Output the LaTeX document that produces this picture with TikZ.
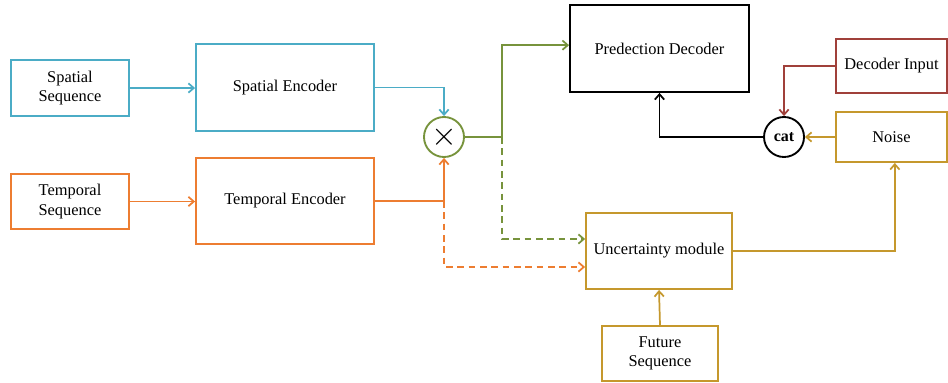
\documentclass[tikz,border=0pt]{standalone}
\usepackage{fontspec}
\setmainfont{Liberation Serif}
\usetikzlibrary{arrows.meta,calc}

\definecolor{spblue}{RGB}{75,172,198}
\definecolor{tporange}{RGB}{237,125,49}
\definecolor{mixgreen}{RGB}{119,147,60}
\definecolor{decred}{RGB}{160,64,58}
\definecolor{unkgold}{RGB}{197,152,45}

\tikzset{
  block/.style={draw, line width=1.4pt, align=center, inner sep=0pt, font=\fontsize{12.3}{14.5}\selectfont},
  joint/.style={draw, circle, line width=1.4pt, inner sep=0pt, minimum size=30pt},
  link/.style={line width=1.3pt, -{Straight Barb[length=4pt,width=7pt]}},
  dashlink/.style={link, dash pattern=on 5pt off 3.5pt},
}

\begin{document}
\begin{tikzpicture}[x=0.75pt, y=-0.75pt]

\useasboundingbox (0,0) rectangle (948,382);

% draw input and encoder blocks
\node (sseq) [block, spblue, text=black, minimum width=88.5pt, minimum height=42pt] at (70,88) {Spatial\\Sequence};
\node (senc) [block, spblue, text=black, minimum width=133.5pt, minimum height=65.25pt] at (285,87.5) {Spatial Encoder};
\node (tseq) [block, tporange, text=black, minimum width=88.5pt, minimum height=41.25pt] at (70,201.5) {Temporal\\Sequence};
\node (tenc) [block, tporange, text=black, minimum width=133.5pt, minimum height=64.5pt] at (285,201) {Temporal Encoder};

% draw fusion point
\node (mult) [joint, mixgreen, text=black, font=\fontsize{30}{30}\selectfont] at (444,137) {$\times$};
\coordinate (split) at (502,137);

% draw decoder side
\node (pdec) [block, black, minimum width=134.25pt, minimum height=65.25pt] at (659.5,48.5) {Predection Decoder};
\node (dinp) [block, decred, text=black, minimum width=83.25pt, minimum height=40.5pt] at (891.5,66) {Decoder Input};
\node (noise) [block, unkgold, text=black, minimum width=83.25pt, minimum height=37.5pt] at (891.5,137) {Noise};
\node (cat) [joint, black, font=\fontsize{12}{14}\selectfont\bfseries] at (784,137) {cat};

% draw uncertainty part
\node (unc) [block, unkgold, text=black, minimum width=109.5pt, minimum height=57pt] at (659,251) {Uncertainty module};
\node (fut) [block, unkgold, text=black, minimum width=87pt, minimum height=41.25pt] at (660,353.5) {Future\\Sequence};

% draw connectors
\draw [link, spblue] (sseq) -- (sseq -| senc.west);
\draw [link, spblue] (senc.east) -| (mult.north);
\draw [link, tporange] (tseq) -- (tseq -| tenc.west);
\draw [link, tporange] (tenc.east) -| (mult.south);
\draw [dashlink, tporange] (mult.south |- tenc.east) |- ([yshift=-12pt]unc.west);

\draw [line width=1.3pt, mixgreen] (mult.east) -- (split);
\draw [link, mixgreen] (split) |- ([yshift=2.5pt]pdec.west);
\draw [dashlink, mixgreen] (split) |- ([yshift=9pt]unc.west);

\draw [link, decred] (dinp.west) -| (cat.north);
\draw [link, unkgold] (noise.west) -- (cat.east);
\draw [link, black] (cat.west) -| (pdec.south);
\draw [link, unkgold] (unc.east) -| ([xshift=2.5pt]noise.south);
\draw [link, unkgold] (fut.north) -- (unc.south);

\end{tikzpicture}
\end{document}
